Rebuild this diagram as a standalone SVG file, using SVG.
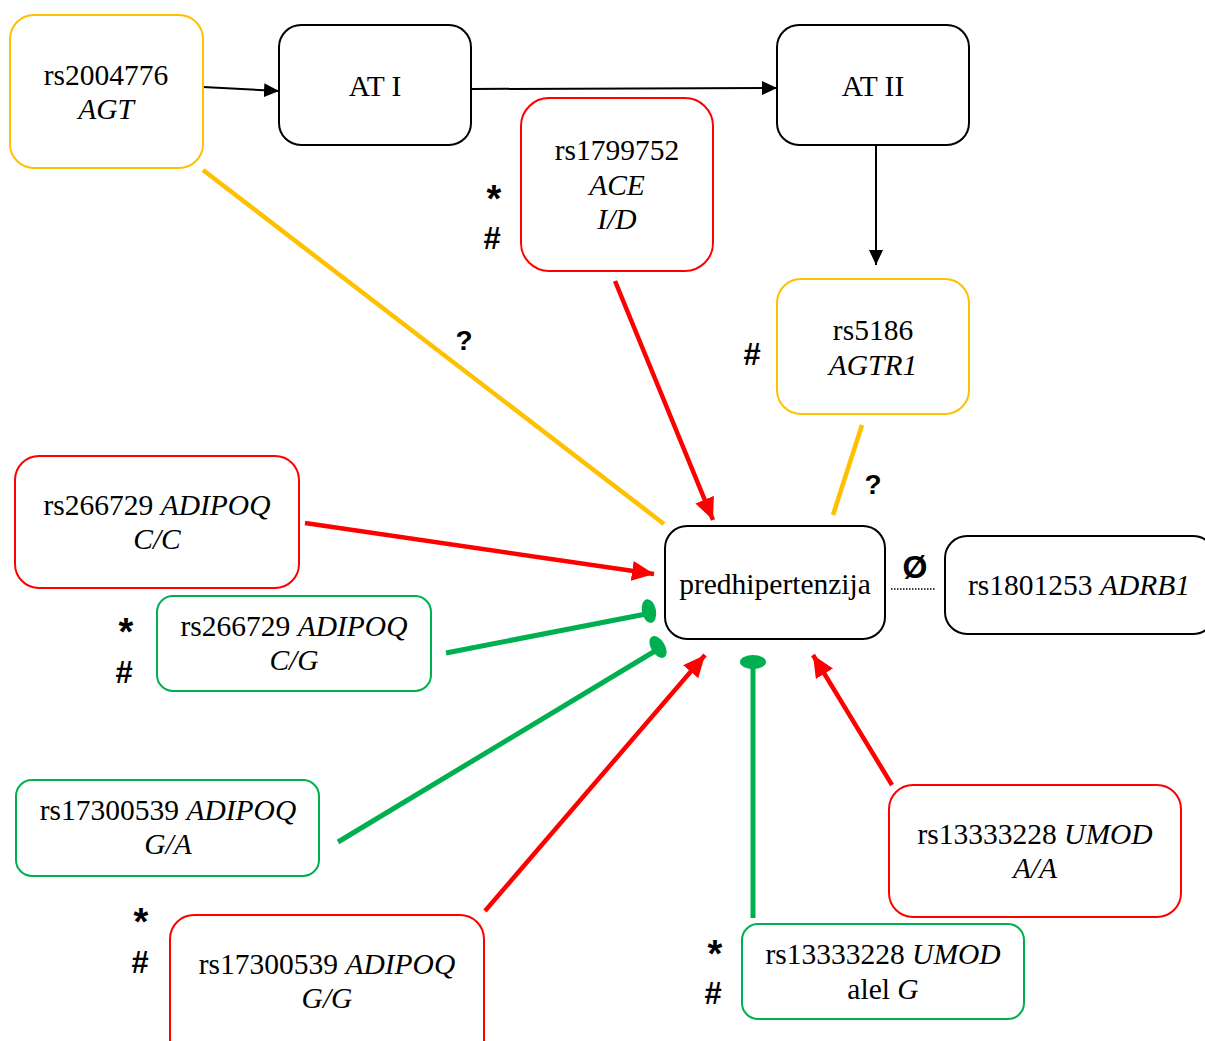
<svg xmlns="http://www.w3.org/2000/svg" width="1205" height="1041" viewBox="0 0 1205 1041">
<defs>
<style>
.box{fill:#fff;stroke-width:2}
.k{stroke:#000}.y{stroke:#FFC000}.r{stroke:#FF0000}.g{stroke:#00B050}
.t{font-family:"Liberation Serif","Times New Roman",serif;font-size:29.5px;fill:#000;text-anchor:middle}
.i{font-style:italic}
.m{font-family:"Liberation Sans",Arial,sans-serif;font-weight:bold;font-size:28px;fill:#000;text-anchor:middle}
.s{font-size:38px}
.h{font-size:31px}
.ln{fill:none}
</style>
<marker id="ak" markerUnits="userSpaceOnUse" markerWidth="16" markerHeight="14" refX="15" refY="7" orient="auto"><path d="M0,0 L15,7 L0,14 z" fill="#000"/></marker>
<marker id="ar" markerUnits="userSpaceOnUse" markerWidth="23" markerHeight="20" refX="22" refY="10" orient="auto"><path d="M0,0 L22,10 L0,20 z" fill="#FF0000"/></marker>
</defs>

<g id="connectors">
<line class="ln k" x1="203" y1="87" x2="279" y2="91" stroke-width="2" marker-end="url(#ak)"/>
<line class="ln k" x1="471" y1="89" x2="777" y2="88" stroke-width="2" marker-end="url(#ak)"/>
<line class="ln k" x1="876" y1="146" x2="876" y2="265" stroke-width="2" marker-end="url(#ak)"/>
<line class="ln y" x1="203" y1="170" x2="664" y2="524" stroke-width="4.5"/>
<line class="ln r" x1="615" y1="281" x2="713" y2="520" stroke-width="4.5" marker-end="url(#ar)"/>
<line class="ln y" x1="862" y1="425" x2="833" y2="515" stroke-width="4.5"/>
<line class="ln r" x1="305" y1="523" x2="654" y2="574" stroke-width="4.5" marker-end="url(#ar)"/>
<line class="ln g" x1="446" y1="653" x2="646" y2="614" stroke-width="5"/>
<ellipse cx="649" cy="611" rx="7" ry="12" transform="rotate(-11 649 611)" fill="#00B050"/>
<line class="ln g" x1="338" y1="842" x2="655" y2="651" stroke-width="5"/>
<ellipse cx="658" cy="647" rx="7" ry="12" transform="rotate(-31 658 647)" fill="#00B050"/>
<line class="ln r" x1="485" y1="911" x2="705" y2="655" stroke-width="4.5" marker-end="url(#ar)"/>
<line class="ln g" x1="753" y1="918" x2="753" y2="664" stroke-width="5"/>
<ellipse cx="753" cy="662" rx="13" ry="7" fill="#00B050"/>
<line class="ln r" x1="892" y1="785" x2="813" y2="655" stroke-width="4.5" marker-end="url(#ar)"/>
<line class="ln k" x1="891" y1="589" x2="936" y2="589" stroke-width="1.5" stroke-dasharray="1.5 1.5"/>
</g>

<g id="n-agt"><rect class="box y" x="10" y="15" width="193" height="153" rx="24"/>
<text class="t" x="106" y="85">rs2004776</text><text class="t i" x="106" y="119">AGT</text></g>
<g id="n-at1"><rect class="box k" x="279" y="25" width="192" height="120" rx="22"/>
<text class="t" x="375" y="96">AT I</text></g>
<g id="n-at2"><rect class="box k" x="777" y="25" width="192" height="120" rx="22"/>
<text class="t" x="873" y="96">AT II</text></g>
<g id="n-ace"><rect class="box r" x="521" y="98" width="192" height="173" rx="28"/>
<text class="t" x="617" y="160">rs1799752</text><text class="t i" x="617" y="195">ACE</text><text class="t i" x="617" y="229">I/D</text></g>
<g id="n-agtr1"><rect class="box y" x="777" y="279" width="192" height="135" rx="24"/>
<text class="t" x="873" y="340">rs5186</text><text class="t i" x="873" y="375">AGTR1</text></g>
<g id="n-pre"><rect class="box k" x="665" y="526" width="220" height="113" rx="22"/>
<text class="t" x="775" y="594">predhipertenzija</text></g>
<g id="n-adrb1"><rect class="box k" x="945" y="536" width="270" height="98" rx="22"/>
<text class="t" x="1079" y="595">rs1801253 <tspan class="i">ADRB1</tspan></text></g>
<g id="n-cc"><rect class="box r" x="15" y="456" width="284" height="132" rx="24"/>
<text class="t" x="157" y="515">rs266729 <tspan class="i">ADIPOQ</tspan></text><text class="t i" x="157" y="549">C/C</text></g>
<g id="n-cg"><rect class="box g" x="157" y="596" width="274" height="95" rx="16"/>
<text class="t" x="294" y="636">rs266729 <tspan class="i">ADIPOQ</tspan></text><text class="t i" x="294" y="670">C/G</text></g>
<g id="n-ga"><rect class="box g" x="16" y="780" width="303" height="96" rx="16"/>
<text class="t" x="168" y="820">rs17300539 <tspan class="i">ADIPOQ</tspan></text><text class="t i" x="168" y="854">G/A</text></g>
<g id="n-gg"><rect class="box r" x="170" y="915" width="314" height="150" rx="24"/>
<text class="t" x="327" y="974">rs17300539 <tspan class="i">ADIPOQ</tspan></text><text class="t i" x="327" y="1008">G/G</text></g>
<g id="n-umodg"><rect class="box g" x="742" y="924" width="282" height="95" rx="16"/>
<text class="t" x="883" y="964">rs13333228 <tspan class="i">UMOD</tspan></text><text class="t" x="883" y="999">alel <tspan class="i">G</tspan></text></g>
<g id="n-umodaa"><rect class="box r" x="889" y="785" width="292" height="132" rx="24"/>
<text class="t" x="1035" y="844">rs13333228 <tspan class="i">UMOD</tspan></text><text class="t i" x="1035" y="878">A/A</text></g>

<g id="marks">
<text class="m s" x="494" y="212">*</text><text class="m h" x="492" y="249">#</text>
<text class="m h" x="752" y="365">#</text>
<text class="m s" x="126" y="645">*</text><text class="m h" x="124" y="683">#</text>
<text class="m s" x="141" y="935">*</text><text class="m h" x="140" y="973">#</text>
<text class="m s" x="715" y="967">*</text><text class="m h" x="713" y="1004">#</text>
<text class="m" x="464" y="350">?</text>
<text class="m" x="873" y="494">?</text>
<text class="m" x="915" y="578" style="font-size:32px">Ø</text>
</g>
</svg>
